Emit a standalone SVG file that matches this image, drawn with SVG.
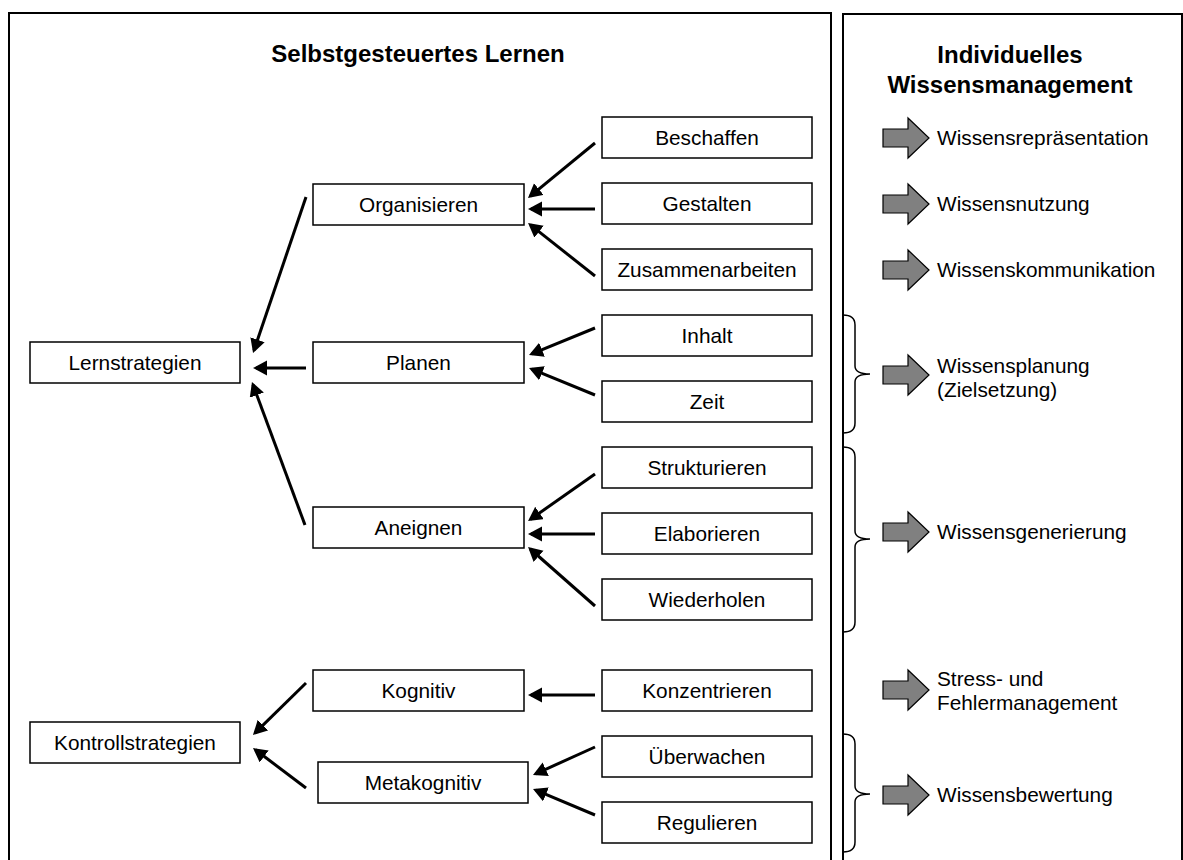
<svg xmlns="http://www.w3.org/2000/svg" width="1183" height="860" viewBox="0 0 1183 860">
  <defs>
    <marker id="head" markerUnits="userSpaceOnUse" markerWidth="15" markerHeight="16" refX="11" refY="7.5" orient="auto">
      <path d="M0,0 L14,7.5 L0,15 Z" fill="#000"/>
    </marker>
    <path id="blockArrow" d="M0,-9 H25 V-20 L46,0 L25,20 V9 H0 Z"/>
  </defs>
  <style>
    .frame { fill: none; stroke: #000; stroke-width: 2; }
    .box { fill: #fff; stroke: #000; stroke-width: 1.5; }
    .lbl { font-family: "Liberation Sans", Arial, sans-serif; font-size: 20.8px; fill: #000; }
    .c { text-anchor: middle; }
    .title { font-family: "Liberation Sans", Arial, sans-serif; font-size: 24px; font-weight: bold; fill: #000; text-anchor: middle; }
    .link { stroke: #000; stroke-width: 3; fill: none; marker-end: url(#head); }
    .block { fill: #808080; stroke: #000; stroke-width: 1.2; }
    .brace { fill: none; stroke: #000; stroke-width: 1.5; }
  </style>
  <rect width="1183" height="860" fill="#fff"/>

  <!-- panels -->
  <path class="frame" d="M9,862 V13 H831 V862"/>
  <path class="frame" d="M843,862 V14 H1182 V862"/>
  <text class="title" x="418" y="62">Selbstgesteuertes Lernen</text>
  <text class="title" x="1010" y="63">Individuelles</text>
  <text class="title" x="1010" y="93">Wissensmanagement</text>

  <!-- left column -->
  <g id="lernstrategien"><rect class="box" x="30" y="342" width="210" height="41"/><text class="lbl c" x="135" y="370">Lernstrategien</text></g>
  <g id="kontrollstrategien"><rect class="box" x="30" y="722" width="210" height="41"/><text class="lbl c" x="135" y="750">Kontrollstrategien</text></g>

  <!-- middle column -->
  <g id="organisieren"><rect class="box" x="313" y="184" width="211" height="41"/><text class="lbl c" x="418.5" y="212">Organisieren</text></g>
  <g id="planen"><rect class="box" x="313" y="342" width="211" height="41"/><text class="lbl c" x="418.5" y="370">Planen</text></g>
  <g id="aneignen"><rect class="box" x="313" y="507" width="211" height="41"/><text class="lbl c" x="418.5" y="535">Aneignen</text></g>
  <g id="kognitiv"><rect class="box" x="313" y="670" width="211" height="41"/><text class="lbl c" x="418.5" y="698">Kognitiv</text></g>
  <g id="metakognitiv"><rect class="box" x="318" y="762" width="210" height="41"/><text class="lbl c" x="423" y="790">Metakognitiv</text></g>

  <!-- right column -->
  <g id="beschaffen"><rect class="box" x="602" y="117" width="210" height="41"/><text class="lbl c" x="707" y="145">Beschaffen</text></g>
  <g id="gestalten"><rect class="box" x="602" y="183" width="210" height="41"/><text class="lbl c" x="707" y="211">Gestalten</text></g>
  <g id="zusammenarbeiten"><rect class="box" x="602" y="249" width="210" height="41"/><text class="lbl c" x="707" y="277">Zusammenarbeiten</text></g>
  <g id="inhalt"><rect class="box" x="602" y="315" width="210" height="41"/><text class="lbl c" x="707" y="343">Inhalt</text></g>
  <g id="zeit"><rect class="box" x="602" y="381" width="210" height="41"/><text class="lbl c" x="707" y="409">Zeit</text></g>
  <g id="strukturieren"><rect class="box" x="602" y="447" width="210" height="41"/><text class="lbl c" x="707" y="475">Strukturieren</text></g>
  <g id="elaborieren"><rect class="box" x="602" y="513" width="210" height="41"/><text class="lbl c" x="707" y="541">Elaborieren</text></g>
  <g id="wiederholen"><rect class="box" x="602" y="579" width="210" height="41"/><text class="lbl c" x="707" y="607">Wiederholen</text></g>
  <g id="konzentrieren"><rect class="box" x="602" y="670" width="210" height="41"/><text class="lbl c" x="707" y="698">Konzentrieren</text></g>
  <g id="ueberwachen"><rect class="box" x="602" y="736" width="210" height="41"/><text class="lbl c" x="707" y="764">Überwachen</text></g>
  <g id="regulieren"><rect class="box" x="602" y="802" width="210" height="41"/><text class="lbl c" x="707" y="830">Regulieren</text></g>

  <!-- connectors -->
  <g id="connectors">
    <line class="link" x1="595" y1="143" x2="530.3" y2="196.1"/>
    <line class="link" x1="595" y1="209" x2="531" y2="209"/>
    <line class="link" x1="595" y1="276" x2="530.4" y2="224.9"/>
    <line class="link" x1="595" y1="328" x2="531.8" y2="353.9"/>
    <line class="link" x1="595" y1="395" x2="531.8" y2="369.1"/>
    <line class="link" x1="595" y1="474" x2="530.5" y2="519.3"/>
    <line class="link" x1="595" y1="534" x2="531" y2="534"/>
    <line class="link" x1="595" y1="606" x2="530.3" y2="549"/>
    <line class="link" x1="595" y1="695" x2="531" y2="695"/>
    <line class="link" x1="595" y1="747" x2="535.7" y2="773.8"/>
    <line class="link" x1="595" y1="815" x2="535.8" y2="790.2"/>
    <line class="link" x1="306" y1="197" x2="254" y2="350.2"/>
    <line class="link" x1="306" y1="368" x2="256" y2="368"/>
    <line class="link" x1="305" y1="525" x2="253" y2="384.8"/>
    <line class="link" x1="306" y1="683" x2="255.1" y2="732.9"/>
    <line class="link" x1="306" y1="788" x2="255.4" y2="749.8"/>
  </g>

  <!-- knowledge management steps -->
  <g id="braces">
    <path class="brace" d="M843,315 Q855,315 855,325 V366 Q855,374 870,374 Q855,374 855,382 V423 Q855,433 843,433"/>
    <path class="brace" d="M843,447 Q855,447 855,457 V531 Q855,539 870,539 Q855,539 855,547 V622 Q855,632 843,632"/>
    <path class="brace" d="M843,734 Q855,734 855,744 V786 Q855,794 870,794 Q855,794 855,802 V842 Q855,852 843,852"/>
  </g>
  <g id="km-repraesentation"><use href="#blockArrow" class="block" transform="translate(883,138)"/><text class="lbl" x="937" y="145">Wissensrepräsentation</text></g>
  <g id="km-nutzung"><use href="#blockArrow" class="block" transform="translate(883,204)"/><text class="lbl" x="937" y="211">Wissensnutzung</text></g>
  <g id="km-kommunikation"><use href="#blockArrow" class="block" transform="translate(883,270)"/><text class="lbl" x="937" y="277">Wissenskommunikation</text></g>
  <g id="km-planung"><use href="#blockArrow" class="block" transform="translate(883,375)"/><text class="lbl" x="937" y="373">Wissensplanung</text><text class="lbl" x="937" y="397">(Zielsetzung)</text></g>
  <g id="km-generierung"><use href="#blockArrow" class="block" transform="translate(883,532)"/><text class="lbl" x="937" y="539">Wissensgenerierung</text></g>
  <g id="km-stress"><use href="#blockArrow" class="block" transform="translate(883,690)"/><text class="lbl" x="937" y="686">Stress- und</text><text class="lbl" x="937" y="710">Fehlermanagement</text></g>
  <g id="km-bewertung"><use href="#blockArrow" class="block" transform="translate(883,795)"/><text class="lbl" x="937" y="802">Wissensbewertung</text></g>
</svg>
